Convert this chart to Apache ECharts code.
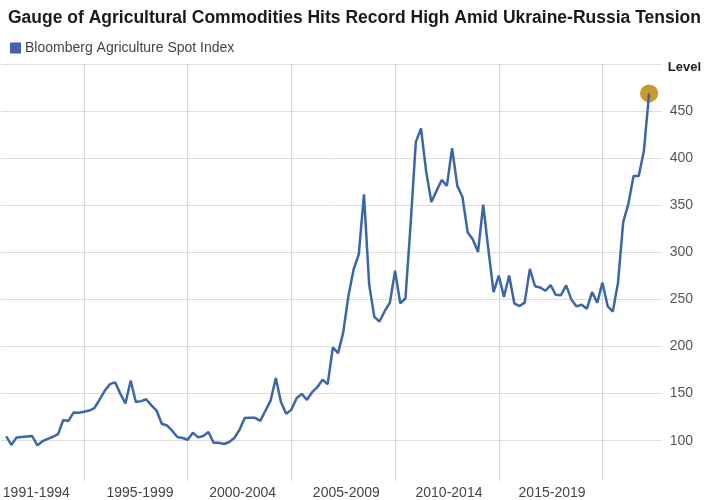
<!DOCTYPE html>
<html>
<head>
<meta charset="utf-8">
<title>Bloomberg Agriculture Spot Index</title>
<script src="https://cdn.jsdelivr.net/npm/echarts@6/dist/echarts.min.js"></script>
<style>
  html, body { margin: 0; padding: 0; background: #fff; }
  #myChart { width: 704px; height: 500px; }
</style>
</head>
<body>
<div id="myChart"></div>
<script>
// quarterly readings, 1991 Q1 .. 2022 Q1
var firstQuarter = 1991.25;
var indexLevels = [
  104.5, 95.5, 103.5, 104, 104.5, 105, 95, 99.5, 102, 104,
  107, 122, 121, 130, 129.6, 130.7, 132, 134.5, 143.5, 153,
  160, 162, 150, 139.5, 164, 141, 142, 144, 137.5, 132,
  118, 116.2, 110.6, 103.9, 102.8, 101, 108.5, 103.5, 105, 109.2,
  97.8, 97.8, 96.5, 98.6, 102.9, 111.6, 124, 124.3, 124.3, 121,
  132, 142.6, 166.6, 140.9, 128.5, 133, 145, 149.7, 143.4, 151.5,
  156.8, 164.8, 160, 199, 193, 215, 253.7, 281.8, 297.8, 361.5,
  266, 231.5, 226.5, 237.5, 246.5, 280.5, 246, 251, 330, 417,
  431.7, 385.8, 353.4, 365.3, 376.9, 370.6, 410.6, 370.6, 358.8, 321.4,
  313.7, 300.3, 350.7, 303, 257.8, 275.4, 252.7, 275.4, 245.9, 243,
  246.6, 282.4, 264, 262.7, 259.2, 265.1, 254.9, 254.5, 265, 250,
  242.6, 244.4, 240.2, 257.8, 246.6, 267.8, 243, 237.1, 267.8, 332,
  351.5, 381, 381, 408, 468.8
];

var periodLabels = ['1991-1994', '1995-1999', '2000-2004', '2005-2009', '2010-2014', '2015-2019'];
var periodLabelAt = [1992.7, 1997.7, 2002.65, 2007.65, 2012.6, 2017.57];
var periodBreaks = [1995, 2000, 2005, 2010, 2015, 2020];
var levelTicks = [100, 150, 200, 250, 300, 350, 400, 450, 500];

var seriesName = 'Bloomberg Agriculture Spot Index';
var fontFamily = '"Liberation Sans", Arial, sans-serif';

var points = indexLevels.map(function (v, i) {
  return [firstQuarter + i * 0.25, v];
});
var lastPoint = points[points.length - 1];

var myChart = echarts.init(document.getElementById('myChart'));

var option = {
  animation: false,
  backgroundColor: '#fff',
  title: {
    text: 'Gauge of Agricultural Commodities Hits Record High Amid Ukraine-Russia Tension',
    left: 8,
    top: 9,
    padding: 0,
    textStyle: {
      fontFamily: fontFamily,
      fontSize: 17.5,
      fontWeight: 'bold',
      color: '#1a1a1a'
    }
  },
  legend: {
    data: [seriesName],
    left: 5,
    top: 36,
    icon: 'rect',
    itemWidth: 11,
    itemHeight: 11,
    itemGap: 10,
    textStyle: {
      fontFamily: fontFamily,
      fontSize: 14,
      color: '#444',
      padding: [0, 0, 0, -1]
    }
  },
  grid: {
    left: 1,
    right: 39,
    top: 64,
    bottom: 17.5
  },
  xAxis: {
    type: 'value',
    min: 1991,
    max: 2022.86,
    axisLine: { show: false },
    axisTick: { show: false, customValues: periodBreaks },
    splitLine: {
      show: true,
      lineStyle: { color: '#d6d6d6', width: 1 }
    },
    axisLabel: {
      customValues: periodLabelAt,
      margin: 5,
      hideOverlap: false,
      fontFamily: fontFamily,
      fontSize: 14,
      color: '#444',
      formatter: function (value) {
        var k = periodLabelAt.indexOf(value);
        return k >= 0 ? periodLabels[k] : '';
      }
    }
  },
  yAxis: {
    type: 'value',
    position: 'right',
    min: 57.2,
    max: 500,
    axisLine: { show: false },
    axisTick: { show: false, customValues: levelTicks },
    splitLine: {
      show: true,
      lineStyle: { color: '#dedede', width: 1 }
    },
    axisLabel: {
      customValues: levelTicks,
      margin: 8,
      fontFamily: fontFamily,
      fontSize: 14,
      color: '#555',
      formatter: function (value) {
        if (value === 500) {
          return '{lv|Level}';
        }
        return value;
      },
      rich: {
        lv: {
          fontFamily: fontFamily,
          fontSize: 13,
          fontWeight: 'bold',
          color: '#222',
          padding: [6, 0, 0, -2]
        }
      }
    }
  },
  series: [
    {
      name: seriesName,
      type: 'line',
      data: points,
      z: 3,
      symbol: 'none',
      smooth: false,
      lineStyle: { color: '#3b67a8', width: 2.5 },
      itemStyle: { color: '#3b67a8' }
    },
    {
      name: 'latest',
      type: 'scatter',
      data: [lastPoint],
      z: 2,
      symbolSize: 18,
      itemStyle: { color: '#c8992e', opacity: 1 }
    }
  ]
};

myChart.setOption(option);
</script>
</body>
</html>
